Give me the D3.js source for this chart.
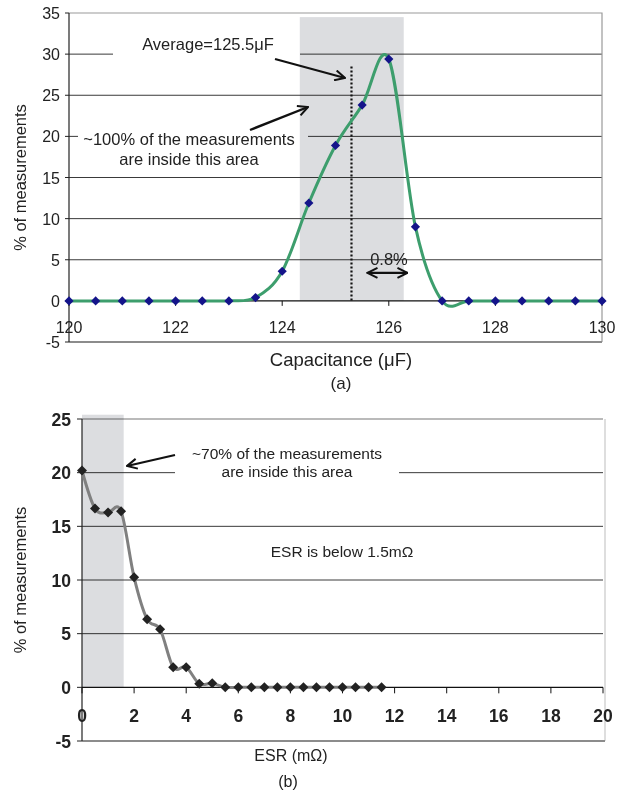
<!DOCTYPE html>
<html><head><meta charset="utf-8">
<script src="https://cdn.jsdelivr.net/npm/d3@7"></script>
<style>
html,body{margin:0;padding:0;background:#fff;}
svg{display:block;font-family:"Liberation Sans",Arial,sans-serif;}
</style></head>
<body>
<svg id="c" width="625" height="791"></svg>
<script>
// ---------- DATA ----------
const capX = [120,120.5,121,121.5,122,122.5,123,123.5,124,124.5,125,125.5,126,126.5,127,127.5,128,128.5,129,129.5,130];
const capPct = [0,0,0,0,0,0,0,0.4,3.6,11.9,18.9,23.8,29.4,9.0,0,0,0,0,0,0,0];
const capXTicks = [120,122,124,126,128,130];
const capYTicks = [-5,0,5,10,15,20,25,30,35];
const capBand = [124.33, 126.28, 34.5];   // x0, x1, top (%)
const capAverage = [125.3, 28.5];          // dotted line x, top
const capSpread = [125.6, 126.35, 3.4];    // double arrow x0, x1, y

const esrX = [0,0.5,1,1.5,2,2.5,3,3.5,4,4.5,5,5.5,6,6.5,7,7.5,8,8.5,9,9.5,10,10.5,11,11.5];
const esrPct = [20.2,16.65,16.3,16.4,10.25,6.35,5.4,1.87,1.87,0.34,0.37,0,0,0,0,0,0,0,0,0,0,0,0,0];
const esrXTicks = [0,2,4,6,8,10,12,14,16,18,20];
const esrYTicks = [-5,0,5,10,15,20,25];
const esrBand = [0, 1.6, 25.4];

const svg = d3.select("#c");
const defs = svg.append("defs");
defs.append("marker").attr("id","ah").attr("viewBox","0 0 12 12").attr("refX",11).attr("refY",6)
  .attr("markerWidth",12).attr("markerHeight",12).attr("orient","auto-start-reverse")
  .attr("markerUnits","userSpaceOnUse")
  .append("path").attr("d","M1,1 L11,6 L1,11").attr("fill","none").attr("stroke","#111").attr("stroke-width",2);

const diamond = (s) => `M0,${-s}L${s},0L0,${s}L${-s},0Z`;

// ================= TOP CHART (a) =================
{
  const x = d3.scaleLinear().domain([120,130]).range([69,602]);
  const y = d3.scaleLinear().domain([-5,35]).range([342,13]);
  const g = svg.append("g");

  g.selectAll(".gl").data(capYTicks.filter(v=>v>0 && v<35)).join("line")
    .attr("x1",x(120)).attr("x2",x(130)).attr("y1",d=>y(d)).attr("y2",d=>y(d))
    .attr("stroke","#3a3a3a").attr("stroke-width",1);
  g.append("path").attr("d",`M${x(120)},${y(35)}H${x(130)}V${y(-5)}`).attr("fill","none").attr("stroke","#9a9a9a").attr("stroke-width",1.2);
  g.append("line").attr("x1",x(120)).attr("x2",x(130)).attr("y1",y(-5)).attr("y2",y(-5)).attr("stroke","#8c8c8c").attr("stroke-width",2);

  // white text boxes covering gridlines
  g.append("rect").attr("x",113).attr("y",33).attr("width",187).attr("height",28).attr("fill","#fff");
  g.append("rect").attr("x",78).attr("y",124).attr("width",230).attr("height",46).attr("fill","#fff");

  g.append("rect").attr("x",x(capBand[0])).attr("y",y(capBand[2]))
    .attr("width",x(capBand[1])-x(capBand[0])).attr("height",y(0)-y(capBand[2]))
    .attr("fill","#dcdde0").style("mix-blend-mode","multiply");

  g.append("line").attr("x1",x(120)).attr("x2",x(120)).attr("y1",y(35)).attr("y2",y(-5)).attr("stroke","#222").attr("stroke-width",1.2);
  g.append("line").attr("x1",x(120)).attr("x2",x(130)).attr("y1",y(0)).attr("y2",y(0)).attr("stroke","#111").attr("stroke-width",1.2);
  g.selectAll(".xt").data(capXTicks).join("line")
    .attr("x1",d=>x(d)).attr("x2",d=>x(d)).attr("y1",y(0)).attr("y2",y(0)+5).attr("stroke","#111");
  g.selectAll(".yt").data(capYTicks).join("line")
    .attr("x1",x(120)-4).attr("x2",x(120)).attr("y1",d=>y(d)).attr("y2",d=>y(d)).attr("stroke","#222");

  g.selectAll(".xl").data(capXTicks).join("text")
    .attr("x",d=>x(d)).attr("y",333).attr("text-anchor","middle")
    .attr("font-size",16).attr("fill","#222").text(d=>d);
  g.selectAll(".yl").data(capYTicks).join("text")
    .attr("x",x(120)-9).attr("y",d=>y(d)+6).attr("text-anchor","end")
    .attr("font-size",16).attr("fill","#222").text(d=>d);

  g.append("line").attr("x1",x(capAverage[0])).attr("x2",x(capAverage[0]))
    .attr("y1",y(capAverage[1])).attr("y2",y(0))
    .attr("stroke","#111").attr("stroke-width",2.2).attr("stroke-dasharray","2,2");

  const line = d3.line().x((d,i)=>x(capX[i])).y(d=>y(d)).curve(d3.curveCardinal.tension(0));
  g.append("path").attr("d",line(capPct)).attr("fill","none").attr("stroke","#3d9e6d").attr("stroke-width",3);
  g.selectAll(".mk").data(capPct).join("path")
    .attr("d",diamond(4.6)).attr("transform",(d,i)=>`translate(${x(capX[i])},${y(d)})`)
    .attr("fill","#14148a");

  g.append("text").attr("x",208).attr("y",50).attr("text-anchor","middle").attr("font-size",16.5).attr("fill","#222").text("Average=125.5μF");
  g.append("line").attr("x1",275).attr("y1",59).attr("x2",345).attr("y2",78).attr("stroke","#111").attr("stroke-width",2.2).attr("marker-end","url(#ah)");
  g.append("text").attr("x",189).attr("y",145).attr("text-anchor","middle").attr("font-size",16.5).attr("fill","#222").text("~100% of the measurements");
  g.append("text").attr("x",189).attr("y",165).attr("text-anchor","middle").attr("font-size",16.5).attr("fill","#222").text("are inside this area");
  g.append("line").attr("x1",250).attr("y1",130).attr("x2",308).attr("y2",107).attr("stroke","#111").attr("stroke-width",2.4).attr("marker-end","url(#ah)");
  g.append("text").attr("x",389).attr("y",265).attr("text-anchor","middle").attr("font-size",16.5).attr("fill","#222").text("0.8%");
  g.append("line").attr("x1",x(capSpread[0])).attr("x2",x(capSpread[1])).attr("y1",y(capSpread[2])).attr("y2",y(capSpread[2]))
    .attr("stroke","#111").attr("stroke-width",2.2).attr("marker-end","url(#ah)").attr("marker-start","url(#ah)");

  g.append("text").attr("x",341).attr("y",366).attr("text-anchor","middle").attr("font-size",18.5).attr("fill","#222").text("Capacitance (μF)");
  g.append("text").attr("x",341).attr("y",389).attr("text-anchor","middle").attr("font-size",17).attr("fill","#222").text("(a)");
  g.append("text").attr("transform",`translate(26,${y(15)}) rotate(-90)`).attr("text-anchor","middle")
    .attr("font-size",16.5).attr("fill","#222").text("% of measurements");
}

// ================= BOTTOM CHART (b) =================
{
  const x = d3.scaleLinear().domain([0,20]).range([82,603]);
  const y = d3.scaleLinear().domain([-5,25]).range([741,419]);
  const g = svg.append("g");

  g.selectAll(".gl").data(esrYTicks.filter(v=>v>0 && v<25)).join("line")
    .attr("x1",x(0)).attr("x2",x(20)).attr("y1",d=>y(d)).attr("y2",d=>y(d))
    .attr("stroke","#3a3a3a").attr("stroke-width",1);
  g.append("line").attr("x1",x(0)).attr("x2",x(20)).attr("y1",y(25)).attr("y2",y(25)).attr("stroke","#777").attr("stroke-width",1.2);
  g.append("line").attr("x1",x(20)+2).attr("x2",x(20)+2).attr("y1",y(25)).attr("y2",y(-5)).attr("stroke","#c8c8c8").attr("stroke-width",1.2);
  g.append("line").attr("x1",x(0)).attr("x2",x(20)+2).attr("y1",y(-5)).attr("y2",y(-5)).attr("stroke","#8c8c8c").attr("stroke-width",2);

  g.append("rect").attr("x",175).attr("y",440).attr("width",224).attr("height",42).attr("fill","#fff");

  g.append("rect").attr("x",x(esrBand[0])).attr("y",y(esrBand[2]))
    .attr("width",x(esrBand[1])-x(esrBand[0])).attr("height",y(0)-y(esrBand[2]))
    .attr("fill","#dcdde0").style("mix-blend-mode","multiply");

  g.append("line").attr("x1",x(0)).attr("x2",x(0)).attr("y1",y(25)).attr("y2",y(-5)).attr("stroke","#222").attr("stroke-width",1.2);
  g.append("line").attr("x1",x(0)).attr("x2",x(20)).attr("y1",y(0)).attr("y2",y(0)).attr("stroke","#111").attr("stroke-width",1.2);
  g.selectAll(".xt").data(esrXTicks).join("line")
    .attr("x1",d=>x(d)).attr("x2",d=>x(d)).attr("y1",y(0)).attr("y2",y(0)+6).attr("stroke","#111");
  g.selectAll(".yt").data(esrYTicks).join("line")
    .attr("x1",x(0)-5).attr("x2",x(0)).attr("y1",d=>y(d)).attr("y2",d=>y(d)).attr("stroke","#222");

  g.selectAll(".xl").data(esrXTicks).join("text")
    .attr("x",d=>x(d)).attr("y",722).attr("text-anchor","middle")
    .attr("font-size",17.5).attr("font-weight","bold").attr("fill","#222").text(d=>d);
  g.selectAll(".yl").data(esrYTicks).join("text")
    .attr("x",x(0)-11).attr("y",d=>y(d)+6.5).attr("text-anchor","end")
    .attr("font-size",17.5).attr("font-weight","bold").attr("fill","#222").text(d=>d);

  const line = d3.line().x((d,i)=>x(esrX[i])).y(d=>y(d)).curve(d3.curveCardinal.tension(0));
  g.append("path").attr("d",line(esrPct)).attr("fill","none").attr("stroke","#808080").attr("stroke-width",3);
  g.selectAll(".mk").data(esrPct).join("path")
    .attr("d",diamond(5)).attr("transform",(d,i)=>`translate(${x(esrX[i])},${y(d)})`)
    .attr("fill","#222");

  g.append("text").attr("x",287).attr("y",459).attr("text-anchor","middle").attr("font-size",15.5).attr("fill","#222").text("~70% of the measurements");
  g.append("text").attr("x",287).attr("y",477).attr("text-anchor","middle").attr("font-size",15.5).attr("fill","#222").text("are inside this area");
  g.append("line").attr("x1",175).attr("y1",455).attr("x2",127).attr("y2",466).attr("stroke","#111").attr("stroke-width",2.2).attr("marker-end","url(#ah)");
  g.append("text").attr("x",342).attr("y",557).attr("text-anchor","middle").attr("font-size",15.5).attr("fill","#222").text("ESR is below 1.5mΩ");

  g.append("text").attr("x",291).attr("y",761).attr("text-anchor","middle").attr("font-size",16).attr("fill","#222").text("ESR (mΩ)");
  g.append("text").attr("x",288).attr("y",787).attr("text-anchor","middle").attr("font-size",16).attr("fill","#222").text("(b)");
  g.append("text").attr("transform",`translate(26,${y(10)}) rotate(-90)`).attr("text-anchor","middle")
    .attr("font-size",16.5).attr("fill","#222").text("% of measurements");
}
</script>
</body></html>
